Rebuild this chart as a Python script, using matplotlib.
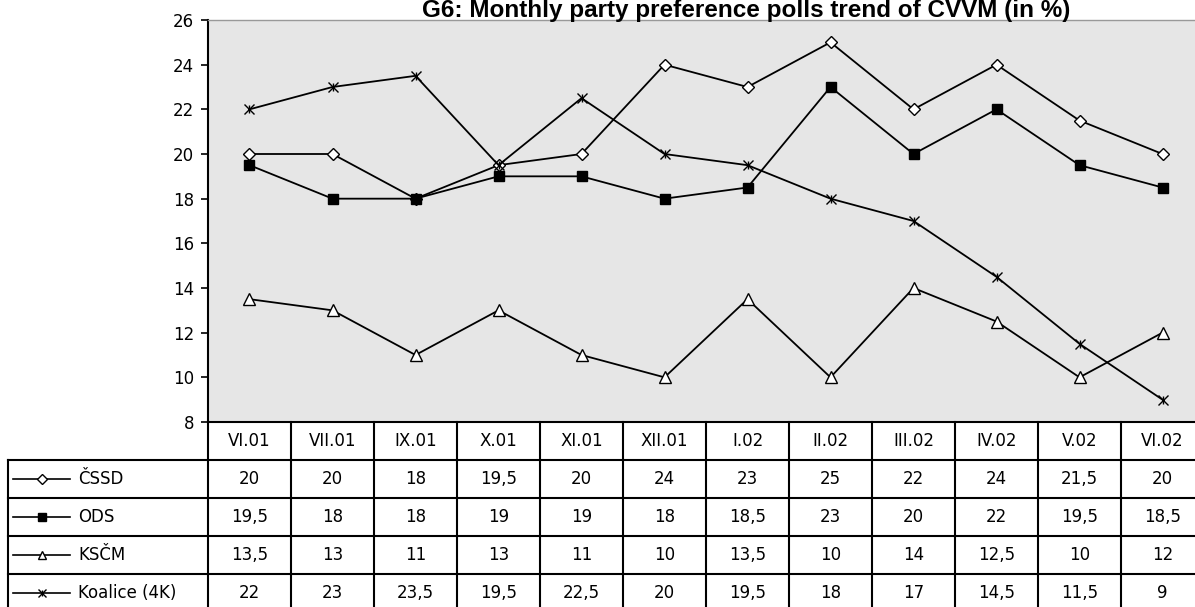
import matplotlib
matplotlib.use("Agg")
import matplotlib.pyplot as plt
from matplotlib.lines import Line2D

months = ["VI.01", "VII.01", "IX.01", "X.01", "XI.01", "XII.01",
          "I.02", "II.02", "III.02", "IV.02", "V.02", "VI.02"]
parties = ["ČSSD", "ODS", "KSČM", "Koalice (4K)"]
cssd = [20, 20, 18, 19.5, 20, 24, 23, 25, 22, 24, 21.5, 20]
ods = [19.5, 18, 18, 19, 19, 18, 18.5, 23, 20, 22, 19.5, 18.5]
kscm = [13.5, 13, 11, 13, 11, 10, 13.5, 10, 14, 12.5, 10, 12]
koalice = [22, 23, 23.5, 19.5, 22.5, 20, 19.5, 18, 17, 14.5, 11.5, 9]
yticks = [8, 10, 12, 14, 16, 18, 20, 22, 24, 26]
title = "G6: Monthly party preference polls trend of CVVM (in %)"

series = [cssd, ods, kscm, koalice]
styles = [
    dict(marker="D", markersize=6, markerfacecolor="white", markeredgecolor="black", markeredgewidth=1.0),
    dict(marker="s", markersize=7, markerfacecolor="black", markeredgecolor="black"),
    dict(marker="^", markersize=8, markerfacecolor="white", markeredgecolor="black", markeredgewidth=1.0),
    dict(marker="x", markersize=7, markeredgecolor="black", markeredgewidth=1.0),
]

W, H = 1195, 607
fig = plt.figure(figsize=(W / 100, H / 100), dpi=100)
fig.patch.set_facecolor("white")
font = "Liberation Sans"
tfont = "DejaVu Sans"

def fx(px):
    return px / W

def fy(py):
    return (H - py) / H

colw = 83.0
x0, x1 = 208, 208 + 12 * colw
ytop, ybot = 20, 422

ax = fig.add_axes([fx(x0), fy(ybot), fx(x1 - x0), (ybot - ytop) / H])
ax.set_facecolor("#e6e6e6")
n = len(months)
xs = list(range(n))
for vals, st in zip(series, styles):
    ax.plot(xs, vals, color="black", linewidth=1.3, clip_on=False, **st)
ax.plot(xs, koalice, linestyle="none", marker="|", markersize=6, markeredgecolor="black", markeredgewidth=1.0)
ax.set_xlim(-0.5, n - 0.5)
ax.set_ylim(8, 26)
ax.set_yticks(yticks)
ax.set_yticklabels([str(v) for v in yticks], fontsize=12, family=tfont)
ax.set_xticks([])
ax.tick_params(axis="y", direction="out", length=5, width=1.2, pad=5)
ax.spines["left"].set_linewidth(1.5)
ax.spines["bottom"].set_linewidth(1.5)
ax.spines["top"].set_color("#999999")
ax.spines["top"].set_linewidth(1.0)
ax.spines["right"].set_visible(False)

# table
rowh = 38.0
tleft = 8
nrows = len(parties) + 1
tax = fig.add_axes([fx(tleft), fy(ybot + nrows * rowh), fx(x1 - tleft), nrows * rowh / H])
left_units = (x0 - tleft) / colw
tax.set_xlim(-0.5 - left_units, n - 0.5)
tax.set_ylim(nrows, 0)
tax.axis("off")
lw = 1.5
for r in range(1, nrows + 1):
    tax.plot([-0.5 - left_units, n - 0.5], [r, r], color="black", lw=lw, clip_on=False)
for c in range(n + 1):
    tax.plot([c - 0.5, c - 0.5], [0, nrows], color="black", lw=lw, clip_on=False)
tax.plot([-0.5 - left_units] * 2, [1, nrows], color="black", lw=lw, clip_on=False)

for i, m in enumerate(months):
    tax.text(i, 0.5, m, ha="center", va="center", fontsize=12, family=tfont)
for r, (name, vals, st) in enumerate(zip(parties, series, styles)):
    yy = r + 1.5
    lx0 = -0.5 - left_units + 5 / colw
    lx1 = lx0 + 57 / colw
    tax.add_line(Line2D([lx0, lx1], [yy, yy], color="black", lw=1.2))
    st2 = dict(st)
    st2["markersize"] = st["markersize"] * 0.8
    tax.add_line(Line2D([(lx0 + lx1) / 2], [yy], linestyle="none", **st2))
    if r == 3:
        tax.add_line(Line2D([(lx0 + lx1) / 2], [yy], linestyle="none", marker="|",
                            markersize=5, markeredgecolor="black"))
    tax.text(lx1 + 8 / colw, yy, name, ha="left", va="center", fontsize=12, family=tfont)
    for i, v in enumerate(vals):
        s = (f"{v:g}").replace(".", ",")
        tax.text(i, yy, s, ha="center", va="center", fontsize=12, family=tfont)

fig.text(fx(746), fy(16.5), title, ha="center", va="baseline", fontsize=17.5,
         fontweight="bold", family=font)

fig.savefig("out.png", dpi=100)
